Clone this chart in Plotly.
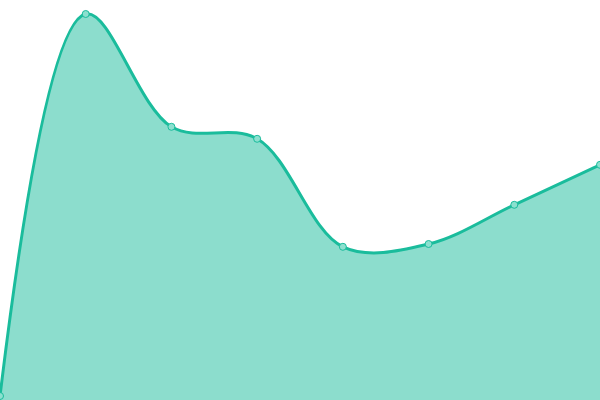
import plotly.graph_objects as go

# data (0 at the bottom edge, 100 at the top edge)
labels = ["p1", "p2", "p3", "p4", "p5", "p6", "p7", "p8"]
values = [1, 96.5, 68.3, 65.3, 38.3, 39, 48.8, 58.8]

x = list(range(len(labels)))

fig = go.Figure()
fig.add_trace(go.Scatter(
    x=x,
    y=values,
    mode="lines+markers",
    line=dict(color="#1abc9c", width=3, shape="spline", smoothing=1),
    fill="tozeroy",
    fillcolor="rgba(26,188,156,0.5)",
    marker=dict(size=7, color="#8ce0cf", line=dict(color="#1abc9c", width=1)),
    hoverinfo="skip",
))

fig.update_layout(
    width=600, height=400,
    margin=dict(l=0, r=0, t=0, b=0),
    paper_bgcolor="white",
    plot_bgcolor="white",
    showlegend=False,
    xaxis=dict(visible=False, range=[0, len(labels) - 1], fixedrange=True),
    yaxis=dict(visible=False, range=[0, 100], fixedrange=True),
)

# drop the browser's default body margin so the chart sits at (0, 0)
fig.write_html("out.html", config={"displayModeBar": False},
               post_script="document.body.style.margin='0px';document.body.style.overflow='hidden';")
